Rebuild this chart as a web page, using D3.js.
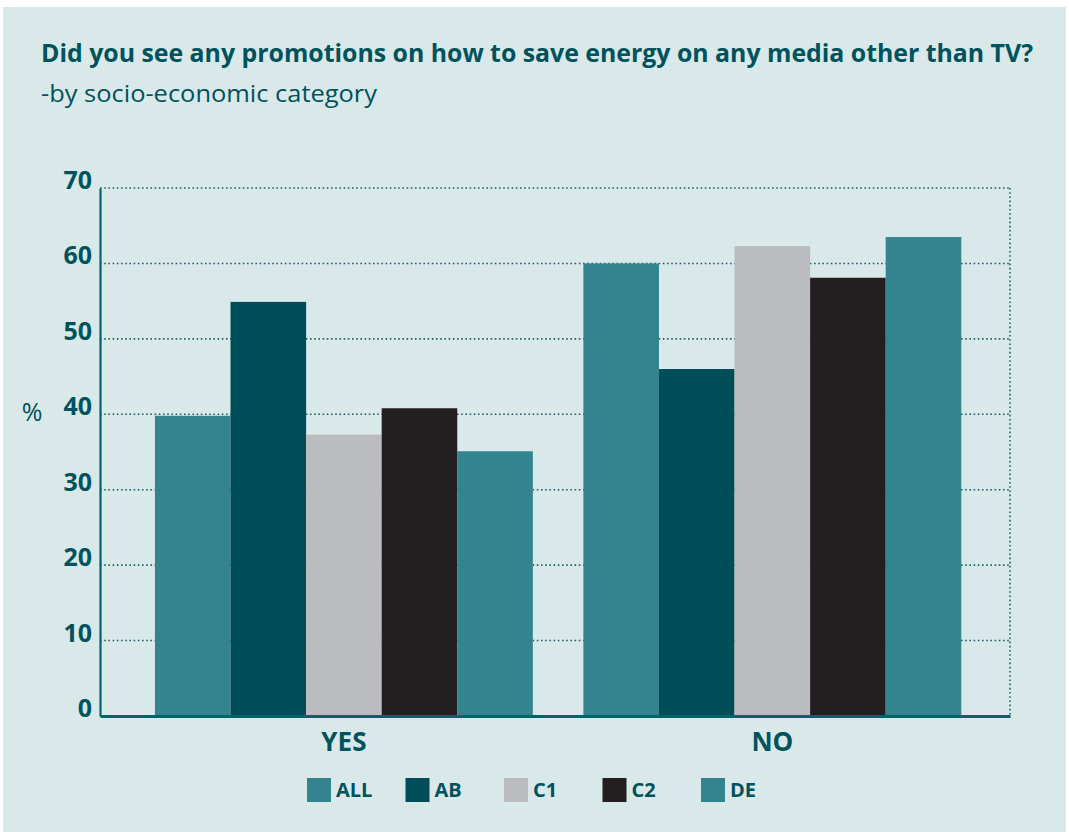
<!DOCTYPE html>
<html>
<head>
<meta charset="utf-8">
<script src="https://cdn.jsdelivr.net/npm/d3@7"></script>
<style>
  html, body { margin: 0; padding: 0; background: #ffffff; }
  svg { display: block; }
  text { font-family: "Open Sans", "Noto Sans", sans-serif; }
</style>
</head>
<body>
<svg id="chart" width="1069" height="832"></svg>
<script>
// Survey answers, percentage by socio-economic category
const groups = ["YES", "NO"];
const categories = ["ALL", "AB", "C1", "C2", "DE"];
const valuesYes = [39.8, 54.9, 37.3, 40.8, 35.1];
const valuesNo = [60.0, 46.0, 62.3, 58.1, 63.5];
const yTicks = [0, 10, 20, 30, 40, 50, 60, 70];
const colors = ["#33848f", "#004d5a", "#bbbcc0", "#231f20", "#33848f"];

const titleText = "Did you see any promotions on how to save energy on any media other than TV?";
const subtitleText = "-by socio-economic category";

const rows = groups.map((g, gi) => ({
  group: g,
  values: categories.map((c, ci) => ({ cat: c, value: (gi === 0 ? valuesYes : valuesNo)[ci] }))
}));

const svg = d3.select("#chart");
const textColor = "#00525c";
const axisColor = "#00646a";

// panel background
svg.append("rect")
  .attr("x", 3).attr("y", 7)
  .attr("width", 1063).attr("height", 825)
  .attr("fill", "#d9e8e9");

// title & subtitle
svg.append("text")
  .attr("x", 41).attr("y", 62)
  .attr("font-size", 25).attr("font-weight", 700)
  .attr("fill", textColor)
  .attr("textLength", 992).attr("lengthAdjust", "spacingAndGlyphs")
  .text(titleText);
svg.append("text")
  .attr("x", 41).attr("y", 102)
  .attr("font-size", 24).attr("font-weight", 400)
  .attr("fill", textColor)
  .attr("textLength", 336).attr("lengthAdjust", "spacingAndGlyphs")
  .text(subtitleText);

const plot = { left: 100, right: 1010, top: 188, bottom: 716 };

const y = d3.scaleLinear().domain([0, 70]).range([plot.bottom, plot.top]);
const x0 = d3.scaleBand().domain(groups)
  .range([plot.left, plot.right])
  .paddingInner(0.118).paddingOuter(0.121).align(0.53);
const x1 = d3.scaleBand().domain(categories).range([0, x0.bandwidth()]);
const color = d3.scaleOrdinal().domain(categories).range(colors);

// dotted grid lines
svg.append("g")
  .selectAll("line")
  .data(yTicks.filter(t => t > 0))
  .join("line")
  .attr("x1", plot.left).attr("x2", plot.right)
  .attr("y1", d => y(d)).attr("y2", d => y(d))
  .attr("stroke", "#1f5f68")
  .attr("stroke-width", 1.6)
  .attr("stroke-dasharray", "1.6,2.6");

// dotted right border
svg.append("line")
  .attr("x1", plot.right).attr("x2", plot.right)
  .attr("y1", plot.top).attr("y2", plot.bottom)
  .attr("stroke", "#1f5f68")
  .attr("stroke-width", 1.6)
  .attr("stroke-dasharray", "1.6,2.6");

// bars
svg.append("g")
  .selectAll("g")
  .data(rows)
  .join("g")
  .attr("transform", d => `translate(${x0(d.group)},0)`)
  .selectAll("rect")
  .data(d => d.values)
  .join("rect")
  .attr("x", d => x1(d.cat))
  .attr("width", x1.bandwidth())
  .attr("y", d => y(d.value))
  .attr("height", d => y(0) - y(d.value))
  .attr("fill", d => color(d.cat));

// y axis
const yAxis = svg.append("g")
  .attr("transform", `translate(${plot.left},0)`)
  .call(d3.axisLeft(y).tickValues(yTicks).tickSize(0).tickPadding(8).tickFormat(d3.format("d")));
yAxis.select(".domain").attr("stroke", axisColor).attr("stroke-width", 2.2);
yAxis.selectAll("text")
  .attr("font-size", 25).attr("font-weight", 700)
  .attr("fill", textColor)
  .attr("font-family", "\"Open Sans\", sans-serif")
  .attr("dy", "0.02em");

// x axis baseline and labels
const xAxis = svg.append("g")
  .attr("transform", `translate(0,${plot.bottom})`)
  .call(d3.axisBottom(x0).tickSize(0));
xAxis.select(".domain").attr("stroke", axisColor).attr("stroke-width", 3);
xAxis.selectAll("text")
  .attr("y", 35).attr("dy", 0)
  .attr("font-size", 26).attr("font-weight", 700)
  .attr("fill", textColor)
  .attr("font-family", "\"Open Sans\", sans-serif");

// axis title
svg.append("text")
  .attr("x", 32).attr("y", 421)
  .attr("text-anchor", "middle")
  .attr("font-size", 25).attr("font-weight", 400)
  .attr("fill", textColor)
  .text("%");

// legend
const legend = svg.append("g")
  .selectAll("g")
  .data(categories)
  .join("g")
  .attr("transform", (d, i) => `translate(${307 + i * 98.5},778)`);
legend.append("rect")
  .attr("width", 24).attr("height", 24)
  .attr("fill", d => color(d));
legend.append("text")
  .attr("x", 29).attr("y", 19)
  .attr("font-size", 20).attr("font-weight", 700)
  .attr("fill", textColor)
  .text(d => d);
</script>
</body>
</html>
